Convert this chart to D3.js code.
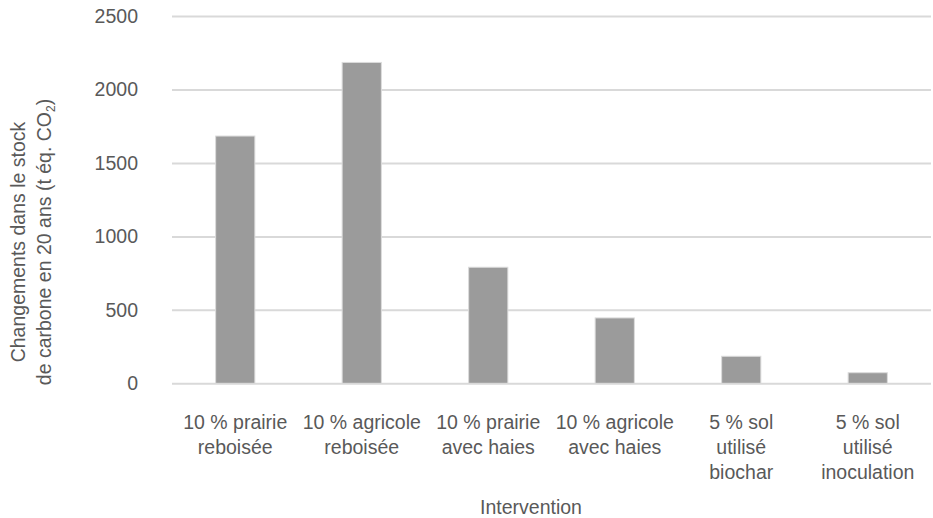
<!DOCTYPE html>
<html>
<head>
<meta charset="utf-8">
<script src="https://cdn.jsdelivr.net/npm/d3@7"></script>
<style>
  html, body { margin: 0; padding: 0; background: #fff; }
  svg { display: block; font-family: "Liberation Sans", Arial, sans-serif; }
</style>
</head>
<body>
<svg id="chart" width="933" height="518"></svg>
<script>
const categories = [
  ["10 % prairie", "reboisée"],
  ["10 % agricole", "reboisée"],
  ["10 % prairie", "avec haies"],
  ["10 % agricole", "avec haies"],
  ["5 % sol", "utilisé", "biochar"],
  ["5 % sol", "utilisé", "inoculation"]
];
const values = [1683, 2184, 790, 445, 184, 72];
const yTicks = [0, 500, 1000, 1500, 2000, 2500];
const xTitle = "Intervention";
const yTitleLine1 = "Changements dans le stock";
const yTitleLine2 = "de carbone en 20 ans (t éq. CO";

const svg = d3.select("#chart");
const textColor = "#595959";
const fontSize = 19.5;

const x = d3.scaleBand()
  .domain(d3.range(categories.length))
  .range([172, 931])
  .paddingInner(0.69)
  .paddingOuter(0.345);

const y = d3.scaleLinear().domain([0, 2500]).range([383.3, 16]);

// gridlines
const yAxis = d3.axisLeft(y).tickValues(yTicks).tickSize(-(931 - 172)).tickPadding(34).tickFormat(d3.format("d"));
const gy = svg.append("g").attr("transform", "translate(172,0)").call(yAxis);
gy.select(".domain").remove();
gy.selectAll(".tick line").attr("stroke", "#d9d9d9").attr("stroke-width", 2);
gy.selectAll(".tick text").attr("fill", textColor).attr("font-size", fontSize)
  .attr("font-family", "Liberation Sans, Arial, sans-serif");

// bars
svg.append("g").selectAll("rect")
  .data(values)
  .join("rect")
  .attr("x", (d, i) => x(i))
  .attr("width", x.bandwidth())
  .attr("y", d => y(d))
  .attr("height", d => y(0) - y(d))
  .attr("fill", "#9b9b9b")
  .attr("stroke", "#dcdcdc")
  .attr("stroke-width", 1);

// x labels
const xl = svg.append("g");
categories.forEach((lines, i) => {
  const t = xl.append("text")
    .attr("text-anchor", "middle")
    .attr("fill", textColor)
    .attr("font-size", fontSize);
  lines.forEach((ln, j) => {
    t.append("tspan")
      .attr("x", x(i) + x.bandwidth() / 2)
      .attr("y", 429 + j * 25)
      .text(ln);
  });
});

// x title
svg.append("text")
  .attr("x", 531)
  .attr("y", 514)
  .attr("text-anchor", "middle")
  .attr("fill", textColor)
  .attr("font-size", fontSize)
  .text(xTitle);

// y title
const yt = svg.append("text")
  .attr("transform", "translate(25,242) rotate(-90)")
  .attr("text-anchor", "middle")
  .attr("fill", textColor)
  .attr("font-size", fontSize);
yt.append("tspan").attr("x", 0).attr("y", 0).text(yTitleLine1);
const l2 = yt.append("tspan").attr("x", 0).attr("y", 25.5);
l2.append("tspan").text(yTitleLine2);
l2.append("tspan").attr("font-size", 12).attr("dy", 4).text("2");
l2.append("tspan").attr("dy", -4).text(")");
</script>
</body>
</html>
